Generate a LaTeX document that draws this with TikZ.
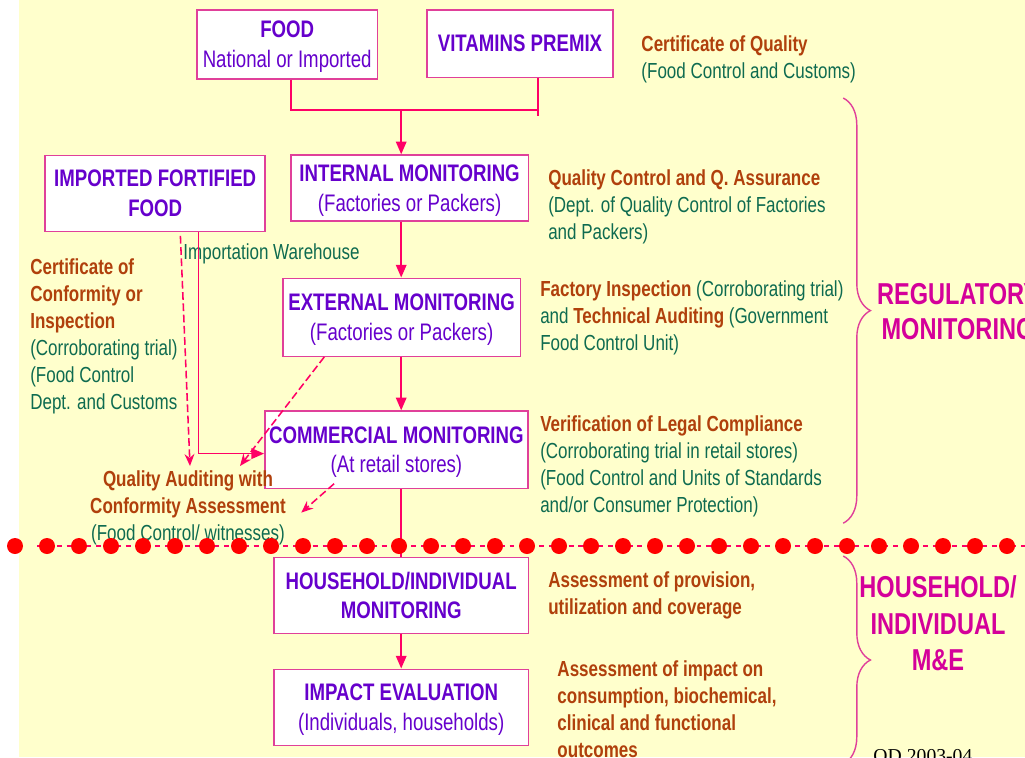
\documentclass[tikz,border=0pt]{standalone}
\usepackage{fontspec}
\setmainfont{Liberation Sans}[FakeStretch=0.78]
\newfontfamily\serifdate{Liberation Serif}
\usepackage{tikz}
\usetikzlibrary{arrows.meta, calc, positioning, decorations.pathreplacing}
\definecolor{Cream}{HTML}{FFFFCC}
\definecolor{Frame}{HTML}{E0409A}
\definecolor{Violet}{HTML}{6600CC}
\definecolor{Wire}{HTML}{FF0066}
\definecolor{Rust}{HTML}{B0400C}
\definecolor{Pine}{HTML}{0E6B50}
\definecolor{Rose}{HTML}{D4009A}
\definecolor{Dot}{HTML}{FF0000}
\newcommand{\keyterm}[1]{{\bfseries\color{Rust}#1}}

\begin{document}
\begin{tikzpicture}[
  box/.style={draw=Frame, fill=white, line width=1pt, text=Violet, align=center,
              inner sep=0pt, text depth=-2pt, font=\fontsize{17}{21}\selectfont},
  note/.style={anchor=north west, align=left, inner sep=0pt, text=Pine,
               font=\fontsize{15.5}{19.2}\selectfont},
  tag/.style={text=Rose, align=center, inner sep=0pt,
              font=\fontsize{21.5}{25}\selectfont\bfseries},
  arr/.style={-{Triangle[length=9pt,width=7.5pt]}, line width=1.1pt, Wire},
  link/.style={line width=1.1pt, Wire},
  dasharr/.style={-{Stealth[length=8.5pt,width=7pt]}, line width=1.1pt, Wire,
                  dash pattern=on 5.5pt off 2.5pt},
  curly/.style={decorate, decoration={brace, amplitude=0.68cm}, Frame, line width=1pt},
]
\useasboundingbox (0,0) rectangle (25.625,-18.925);
\clip (0,0) rectangle (25.625,-18.925);
\fill[white] (0,0) rectangle (25.625,-18.925);
\fill[Cream] (0.475,0) rectangle (25.625,-18.925);

% supply chain boxes
\node[box, minimum width=4.5cm, minimum height=1.72cm] (food) at (7.18,-1.11)
  {\textbf{FOOD}\\National or Imported};
\node[box, minimum width=4.65cm, minimum height=1.68cm] (premix) at (13.0,-1.09)
  {\textbf{VITAMINS PREMIX}};
\node[box, minimum width=5.5cm, minimum height=1.9cm] (imported) at (3.88,-4.83)
  {\textbf{IMPORTED FORTIFIED}\\\textbf{FOOD}};
\node[box, minimum width=5.93cm, minimum height=1.65cm] (internal) at (10.24,-4.70)
  {\textbf{INTERNAL MONITORING}\\(Factories or Packers)};
\node[box, minimum width=5.93cm, minimum height=1.95cm] (external) at (10.04,-7.93)
  {\textbf{EXTERNAL MONITORING}\\(Factories or Packers)};
\node[box, minimum width=6.58cm, minimum height=1.93cm] (commercial) at (9.91,-11.24)
  {\textbf{COMMERCIAL MONITORING}\\(At retail stores)};
\node[box, minimum width=6.35cm, minimum height=1.9cm] (household) at (10.03,-14.88)
  {\textbf{HOUSEHOLD/INDIVIDUAL}\\\textbf{MONITORING}};
\node[box, minimum width=6.35cm, minimum height=1.9cm] (impact) at (10.03,-17.68)
  {\textbf{IMPACT EVALUATION}\\(Individuals, households)};

% notes on the right
\node[note] (certq) at (16.03,-0.88)
  {\keyterm{Certificate of Quality}\\(Food Control and Customs)};
\node[note] (qc) at (13.7,-4.23)
  {\keyterm{Quality Control and Q. Assurance}\\(Dept. of Quality Control of Factories\\and Packers)};
\node[note] (inspect) at (13.5,-7.0)
  {\keyterm{Factory Inspection} (Corroborating trial)\\and \keyterm{Technical Auditing} (Government\\Food Control Unit)};
\node[note] (legal) at (13.5,-10.38)
  {\keyterm{Verification of Legal Compliance}\\(Corroborating trial in retail stores)\\(Food Control and Units of Standards\\and/or Consumer Protection)};
\node[note] (provision) at (13.7,-14.28)
  {\keyterm{Assessment of provision,}\\\keyterm{utilization and coverage}};
\node[note] (outcomes) at (13.93,-16.5)
  {\keyterm{Assessment of impact on}\\\keyterm{consumption, biochemical,}\\\keyterm{clinical and functional}\\\keyterm{outcomes}};

% notes on the left
\node[note] (certc) at (0.75,-6.45)
  {\keyterm{Certificate of}\\\keyterm{Conformity or}\\\keyterm{Inspection}\\(Corroborating trial)\\(Food Control\\Dept. and Customs};
\node[note, anchor=west] (warehouse) at (4.58,-6.35) {Importation Warehouse};
\node[note, anchor=north, align=center] (qaudit) at (4.7,-11.75)
  {\keyterm{Quality Auditing with}\\\keyterm{Conformity Assessment}\\(Food Control/ witnesses)};

% main flow
\coordinate (merge) at (10.03,-2.75);
\draw[link] ([xshift=1mm]food.south) |- ([xshift=4.5mm]premix.south |- merge);
\draw[link] ([xshift=4.5mm]premix.south) -- ++(0,-0.95);
\draw[arr] (merge) -- (merge |- internal.north);
\draw[arr] (internal.south -| merge) -- (external.north -| merge);
\draw[arr] (external.south -| merge) -- (commercial.north -| merge);
\draw[link] (commercial.south -| merge) -- (household.north -| merge);
\draw[arr] (household.south -| merge) -- (impact.north -| merge);

% imported food and audits
\draw[arr] ([xshift=1.08cm]imported.south) |- ([yshift=-1mm]commercial.west);
\draw[dasharr] ([xshift=0.63cm,yshift=-1mm]imported.south) -- ([xshift=0.05cm,yshift=1mm]qaudit.north);
\draw[dasharr] ([xshift=1.05cm]external.south west) -- ([xshift=1.3cm,yshift=1mm]qaudit.north);
\draw[dasharr] ([xshift=1.75cm,yshift=1.3mm]commercial.south west) -- ([xshift=0.38cm,yshift=-1.3mm]qaudit.east);

% dividing line
\draw[Wire, line width=1pt, dash pattern=on 3.5pt off 3.5pt] (0.93,-13.65) -- (25.625,-13.65);
\foreach \i in {0,...,31}
  \fill[Dot] (0.375+0.8*\i,-13.65) circle (0.2);

% braces and group labels
\draw[curly] (21.08,-2.45) -- (21.08,-13.08);
\draw[curly] (21.08,-13.9) -- (21.08,-19.1);
\node[tag] (regulatory) at (23.95,-7.78) {REGULATORY\\MONITORING};
\node[tag, font=\fontsize{21.5}{26}\selectfont\bfseries] (hhme) at (23.45,-15.58)
  {HOUSEHOLD/\\INDIVIDUAL\\M\&E};

\node[anchor=north west, inner sep=0pt, font=\serifdate\fontsize{14}{16}\selectfont] (stamp)
  at (21.83,-18.73) {QD 2003-04};
\end{tikzpicture}
\end{document}
